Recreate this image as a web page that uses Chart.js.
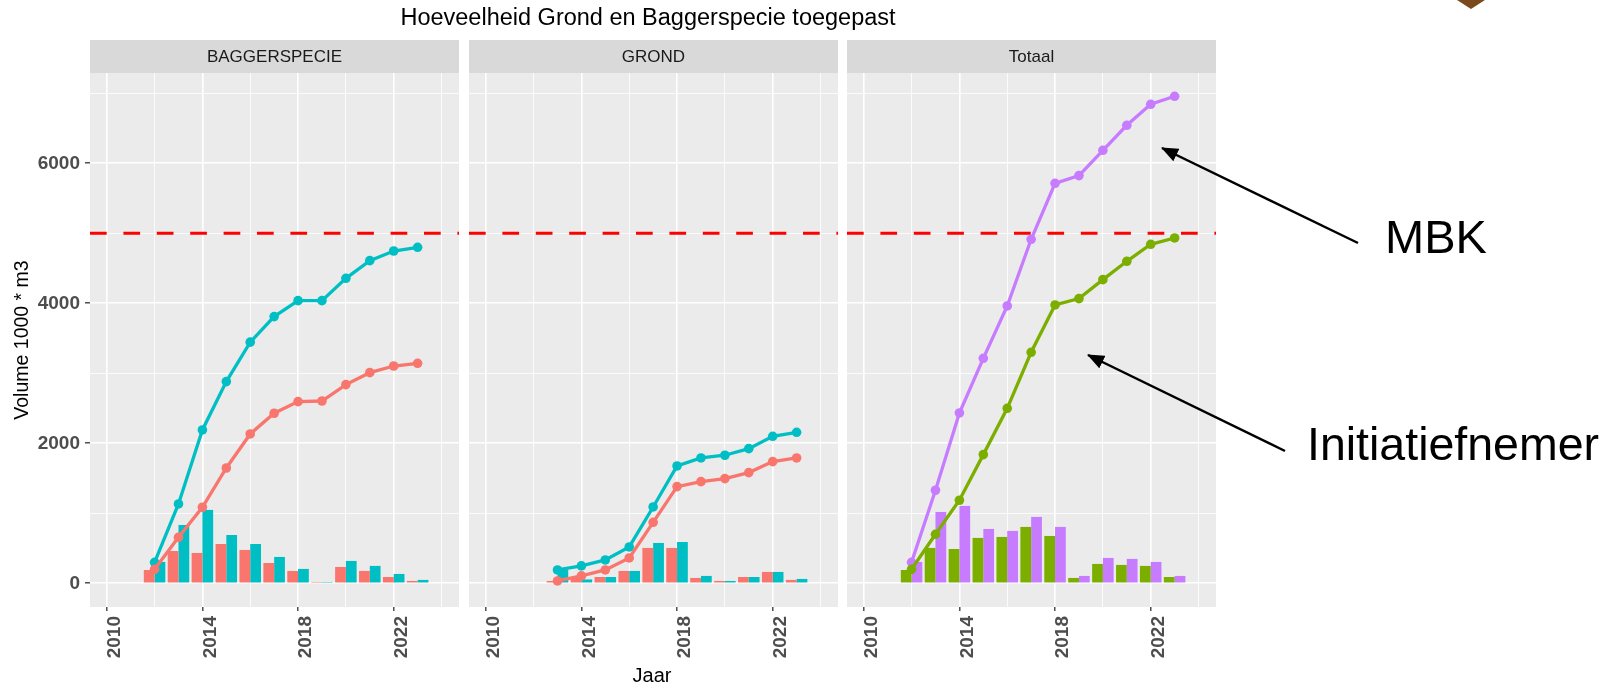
<!DOCTYPE html>
<html>
<head>
<meta charset="utf-8">
<script src="https://cdn.jsdelivr.net/npm/chart.js@4.4.0/dist/chart.umd.min.js"></script>
<style>
  html, body { margin: 0; padding: 0; background: #fff; }
  #wrap { position: relative; width: 1618px; height: 684px; overflow: hidden; }
  canvas, svg { position: absolute; left: 0; top: 0; }
</style>
</head>
<body>
<div id="wrap">
  <canvas id="c1" width="1618" height="684"></canvas>
  <canvas id="c2" width="1618" height="684"></canvas>
  <canvas id="c3" width="1618" height="684"></canvas>
  <svg id="deco" width="1618" height="684" font-family="Liberation Sans, Arial, sans-serif">
    <defs>
      <marker id="ah" markerWidth="17" markerHeight="14" refX="16" refY="7" orient="auto" markerUnits="userSpaceOnUse">
        <path d="M0,0 L17,7 L0,14 z" fill="#000"/>
      </marker>
    </defs>
    <polygon points="1457,0 1485,0 1471,9" fill="#7a4a1c"/>
    <text x="648" y="25" font-size="23.5" text-anchor="middle" fill="#000">Hoeveelheid Grond en Baggerspecie toegepast</text>
    <rect x="90" y="40" width="369" height="33" fill="#D9D9D9"/>
    <rect x="469" y="40" width="369" height="33" fill="#D9D9D9"/>
    <rect x="847" y="40" width="369" height="33" fill="#D9D9D9"/>
    <text x="274.5" y="62" font-size="17" text-anchor="middle" fill="#1A1A1A">BAGGERSPECIE</text>
    <text x="653.5" y="62" font-size="17" text-anchor="middle" fill="#1A1A1A">GROND</text>
    <text x="1031.5" y="62" font-size="17" text-anchor="middle" fill="#1A1A1A">Totaal</text>
    <text transform="translate(28,340) rotate(-90)" font-size="19.5" text-anchor="middle" fill="#000">Volume 1000 * m3</text>
    <text x="652" y="682" font-size="20" text-anchor="middle" fill="#000">Jaar</text>
    <text x="1385" y="253" font-size="47" fill="#000">MBK</text>
    <text x="1307" y="460" font-size="46.5" fill="#000">Initiatiefnemer</text>
    <line x1="1358" y1="243" x2="1162" y2="148" stroke="#000" stroke-width="2.5" marker-end="url(#ah)"/>
    <line x1="1285" y1="451" x2="1088" y2="355" stroke="#000" stroke-width="2.5" marker-end="url(#ah)"/>
  </svg>
</div>
<script>
// jaren
var years = [2012, 2013, 2014, 2015, 2016, 2017, 2018, 2019, 2020, 2021, 2022, 2023];
var grondYears = [2013, 2014, 2015, 2016, 2017, 2018, 2019, 2020, 2021, 2022, 2023];

// BAGGERSPECIE (per jaar en cumulatief)
var baggerInitJaar = [190, 461, 433, 561, 476, 290, 176, 5, 233, 176, 90, 33];
var baggerMbkJaar  = [305, 833, 1048, 690, 561, 376, 205, 5, 319, 248, 133, 48];
var baggerInitCum  = [200, 657, 1086, 1647, 2133, 2429, 2595, 2604, 2838, 3009, 3104, 3143];
var baggerMbkCum   = [300, 1133, 2190, 2881, 3445, 3810, 4038, 4038, 4357, 4609, 4747, 4800];

// GROND
var grondInitJaar = [33, 80, 90, 176, 505, 505, 76, 33, 90, 162, 48];
var grondMbkJaar  = [190, 55, 90, 176, 576, 590, 105, 33, 90, 162, 62];
var grondInitCum  = [33, 105, 190, 362, 871, 1381, 1452, 1495, 1581, 1738, 1790];
var grondMbkCum   = [190, 248, 333, 519, 1090, 1676, 1790, 1829, 1924, 2100, 2157];

// Totaal
var totInitJaar = [190, 505, 490, 648, 662, 805, 676, 76, 276, 262, 248, 90];
var totMbkJaar  = [305, 1019, 1105, 776, 748, 948, 805, 105, 362, 348, 305, 105];
var totInitCum  = [200, 700, 1186, 1838, 2500, 3300, 3976, 4067, 4338, 4600, 4843, 4933];
var totMbkCum   = [300, 1329, 2433, 3214, 3962, 4914, 5714, 5824, 6186, 6543, 6843, 6957];

var grens = 5000;

// assen
var xGrid = [2010, 2012, 2014, 2016, 2018, 2020, 2022, 2024];
var xLabels = [2010, 2014, 2018, 2022];
var yGrid = [0, 1000, 2000, 3000, 4000, 5000, 6000, 7000];
var yLabels = [0, 2000, 4000, 6000];

var xMin = 2009.3, xMax = 2024.73;
var yMin = -339, yMax = 7290;

Chart.defaults.font.family = 'Liberation Sans';

function pts(xs, ys) {
  return xs.map(function (x, i) { return { x: x, y: ys[i] }; });
}

var panelPlugin = {
  id: 'panel',
  beforeDraw: function (chart) {
    var a = chart.chartArea, ctx = chart.ctx;
    ctx.save();
    ctx.fillStyle = '#EBEBEB';
    ctx.fillRect(a.left, a.top, a.right - a.left, a.bottom - a.top);
    ctx.restore();
  },
  beforeDatasetsDraw: function (chart) {
    var a = chart.chartArea, ctx = chart.ctx;
    var y = chart.scales.y.getPixelForValue(grens);
    ctx.save();
    ctx.beginPath();
    ctx.rect(a.left, a.top, a.right - a.left, a.bottom - a.top);
    ctx.clip();
    ctx.strokeStyle = '#FF0000';
    ctx.lineWidth = 3;
    ctx.setLineDash([16.7, 16.7]);
    ctx.beginPath();
    ctx.moveTo(a.left, y);
    ctx.lineTo(a.right, y);
    ctx.stroke();
    ctx.restore();
  }
};

function makePanel(id, xs, barA, barB, cumA, cumB, colA, colB, left, right, showY) {
  var tickFont = { size: 19, weight: 'bold' };
  return new Chart(document.getElementById(id), {
    type: 'bar',
    data: {
      datasets: [
        { type: 'line', data: pts(xs, cumA), borderColor: colA, backgroundColor: colA, borderWidth: 3.3,
          pointRadius: 4.8, pointBorderWidth: 0, pointBackgroundColor: colA, order: 0 },
        { type: 'line', data: pts(xs, cumB), borderColor: colB, backgroundColor: colB, borderWidth: 3.3,
          pointRadius: 4.8, pointBorderWidth: 0, pointBackgroundColor: colB, order: 0 },
        { data: pts(xs, barA), backgroundColor: colA, categoryPercentage: 0.9, barPercentage: 1.0, order: 1 },
        { data: pts(xs, barB), backgroundColor: colB, categoryPercentage: 0.9, barPercentage: 1.0, order: 1 }
      ]
    },
    options: {
      responsive: false,
      animation: false,
      layout: { padding: { left: left, right: 1618 - right, top: 73, bottom: 0 } },
      plugins: { legend: { display: false }, tooltip: { enabled: false } },
      scales: {
        x: {
          type: 'linear', min: xMin, max: xMax, offset: false,
          afterBuildTicks: function (s) { s.ticks = xGrid.map(function (v) { return { value: v }; }); },
          afterFit: function (s) { s.height = 77; },
          border: { display: false },
          grid: {
            offset: false,
            color: '#FFFFFF',
            lineWidth: function (c) { return xLabels.indexOf(c.tick.value) >= 0 ? 1.6 : 0.8; },
            tickColor: function (c) { return xLabels.indexOf(c.tick.value) >= 0 ? '#333333' : 'rgba(0,0,0,0)'; },
            tickLength: 4,
            tickWidth: 1.3
          },
          ticks: {
            autoSkip: false, minRotation: 90, maxRotation: 90, padding: 5, labelOffset: 8,
            color: '#4D4D4D', font: tickFont,
            callback: function (v) { return xLabels.indexOf(v) >= 0 ? String(v) : ''; }
          }
        },
        y: {
          type: 'linear', min: yMin, max: yMax,
          afterBuildTicks: function (s) { s.ticks = yGrid.map(function (v) { return { value: v }; }); },
          afterFit: function (s) { s.width = showY ? 90 : 0; },
          border: { display: false },
          grid: {
            color: '#FFFFFF',
            lineWidth: function (c) { return yLabels.indexOf(c.tick.value) >= 0 ? 1.6 : 0.8; },
            tickColor: function (c) { return yLabels.indexOf(c.tick.value) >= 0 ? '#333333' : 'rgba(0,0,0,0)'; },
            drawTicks: showY,
            tickLength: 5,
            tickWidth: 1.3
          },
          ticks: {
            display: showY, padding: 5, color: '#4D4D4D', font: tickFont,
            callback: function (v) { return yLabels.indexOf(v) >= 0 ? String(v) : ''; }
          }
        }
      }
    },
    plugins: [panelPlugin]
  });
}

makePanel('c1', years, baggerInitJaar, baggerMbkJaar, baggerInitCum, baggerMbkCum, '#F8766D', '#00BFC4', 0, 459, true);
makePanel('c2', grondYears, grondInitJaar, grondMbkJaar, grondInitCum, grondMbkCum, '#F8766D', '#00BFC4', 469, 838, false);
makePanel('c3', years, totInitJaar, totMbkJaar, totInitCum, totMbkCum, '#7CAE00', '#C77CFF', 847, 1216, false);
</script>
</body>
</html>
